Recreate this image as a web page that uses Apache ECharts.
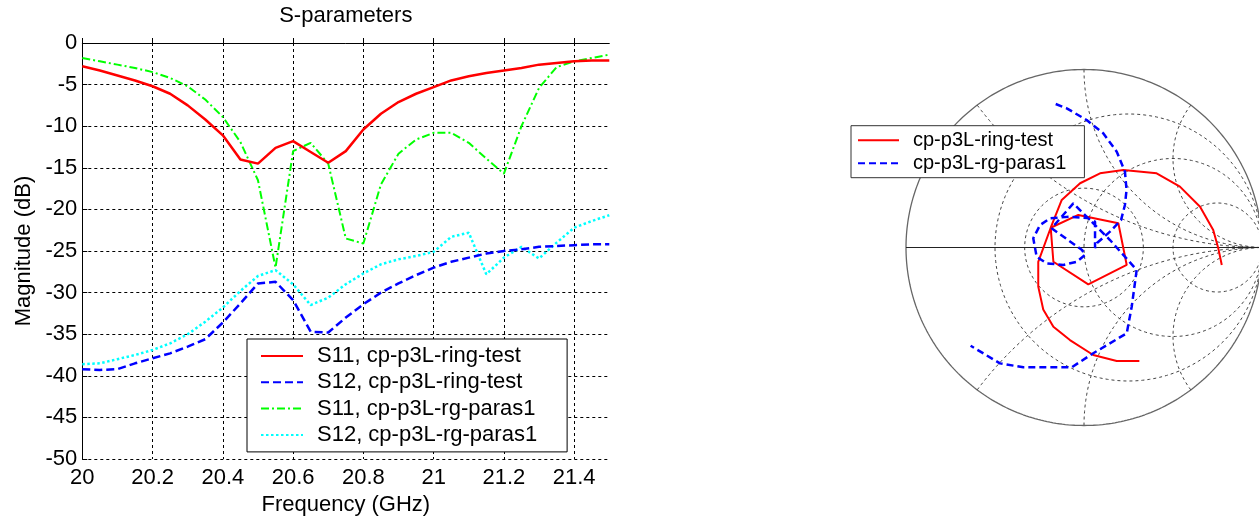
<!DOCTYPE html>
<html>
<head>
<meta charset="utf-8">
<script src="https://cdn.jsdelivr.net/npm/echarts@6/dist/echarts.min.js"></script>
<style>
html,body{margin:0;padding:0;background:#fff;}
#chart{width:1259px;height:516px;}
</style>
</head>
<body>
<div id="chart"></div>
<script>
// Frequency sweep, GHz
const freq = [20.00, 20.05, 20.10, 20.15, 20.20, 20.25, 20.30, 20.35, 20.40, 20.45,
              20.50, 20.55, 20.60, 20.65, 20.70, 20.75, 20.80, 20.85, 20.90, 20.95,
              21.00, 21.05, 21.10, 21.15, 21.20, 21.25, 21.30, 21.35, 21.40, 21.45, 21.50];

// Magnitudes in dB
const s11RingTest = [-2.8, -3.3, -3.9, -4.5, -5.2, -6.1, -7.5, -9.2, -11.1, -14.0,
                     -14.5, -12.6, -11.8, -13.1, -14.4, -13.0, -10.4, -8.5, -7.1, -6.1,
                     -5.3, -4.5, -4.0, -3.6, -3.3, -3.0, -2.6, -2.4, -2.2, -2.1, -2.1];
const s12RingTest = [-39.2, -39.3, -39.2, -38.5, -37.9, -37.3, -36.5, -35.6, -33.6, -31.3,
                     -28.9, -28.7, -30.9, -34.7, -34.8, -33.0, -31.4, -30.0, -28.9, -27.9,
                     -27.0, -26.3, -25.8, -25.3, -25.0, -24.8, -24.5, -24.4, -24.3, -24.2, -24.2];
const s11RgParas = [-1.8, -2.2, -2.6, -3.0, -3.5, -4.2, -5.2, -6.8, -8.9, -11.9,
                    -16.5, -27.0, -13.0, -12.0, -14.5, -23.5, -24.1, -17.0, -13.3, -11.6,
                    -10.8, -10.8, -12.0, -13.9, -15.7, -10.0, -5.4, -2.9, -2.2, -1.8, -1.4];
const s12RgParas = [-38.6, -38.5, -38.0, -37.5, -36.9, -36.1, -35.0, -33.5, -31.8, -29.8,
                    -28.0, -27.3, -29.0, -31.5, -30.6, -29.0, -27.7, -26.6, -26.0, -25.6,
                    -25.1, -23.3, -22.8, -27.8, -25.8, -24.5, -25.9, -24.0, -22.2, -21.4, -20.7];

const freqTicks = { min: 20, max: 21.5, step: 0.2 };
const dbTicks = { min: -50, max: 0, step: 5 };

// Reflection coefficient traces on the Smith chart (real / imaginary parts)
const ringTestRe = [0.311, 0.184, 0.052, -0.079, -0.172, -0.229, -0.257, -0.257, -0.187, -0.032,
                    0.193, 0.240, 0.024, -0.172, -0.187, -0.125, -0.022, 0.090, 0.221, 0.408,
                    0.539, 0.652, 0.726, 0.754, 0.774];
const ringTestIm = [-0.638, -0.638, -0.604, -0.520, -0.445, -0.348, -0.220, -0.081, 0.111, 0.183,
                    0.136, -0.098, -0.207, -0.080, 0.111, 0.267, 0.361, 0.417, 0.435, 0.417,
                    0.342, 0.229, 0.098, -0.003, -0.098];
const rgParasRe = [-0.159, -0.097, 0.015, 0.108, 0.184, 0.230, 0.239, 0.230, 0.208, 0.146,
                   0.073, 0.062, 0.062, 0.017, -0.079, -0.191, -0.247, -0.285, -0.266, -0.210,
                   -0.116, -0.041, 0.006, -0.011, -0.182, -0.060, 0.146, 0.296, 0.268, 0.240,
                   0.052, -0.069, -0.341, -0.472, -0.637];
const rgParasIm = [0.806, 0.782, 0.716, 0.642, 0.538, 0.426, 0.323, 0.239, 0.154, 0.089,
                   0.025, -0.003, 0.145, 0.166, 0.173, 0.164, 0.126, 0.052, -0.052, -0.089,
                   -0.098, -0.080, -0.042, -0.014, 0.108, 0.248, 0.042, -0.126, -0.333, -0.482,
                   -0.594, -0.673, -0.673, -0.651, -0.552];

// Smith chart grid values
const resistanceCircles = [1 / 3, 1, 3];
const reactanceArcs = [0.5, 1, 2, -0.5, -1, -2];
const reflectionCircles = [1 / 3];

const FONT = '"Liberation Sans", Arial, Helvetica, sans-serif';

function zip(a, b) { return a.map((v, i) => [v, b[i]]); }

function arc(cx, cy, rad, a0, a1, n) {
  const pts = [];
  for (let i = 0; i <= n; i++) {
    const a = a0 + (a1 - a0) * i / n;
    pts.push([cx + rad * Math.cos(a), cy + rad * Math.sin(a)]);
  }
  return pts;
}

function resistanceCircle(r) {
  return arc(r / (r + 1), 0, 1 / (r + 1), 0, 2 * Math.PI, 240);
}

function reactanceArc(x) {
  const ax = Math.abs(x);
  const ix = (ax * ax - 1) / (ax * ax + 1);
  const iy = 2 * ax / (ax * ax + 1);
  const t0 = Math.atan2(iy - 1 / ax, ix - 1);
  const start = t0 < 0 ? t0 + 2 * Math.PI : t0;
  const pts = arc(1, 1 / ax, 1 / ax, start, 1.5 * Math.PI, 200);
  return x < 0 ? pts.map(p => [p[0], -p[1]]) : pts;
}

const gridDash = { color: '#444', width: 1, type: [3, 3] };
const smithGridSeries = [];
function addGridCurve(pts, style) {
  smithGridSeries.push({
    type: 'line', xAxisIndex: 1, yAxisIndex: 1, data: pts, symbol: 'none',
    silent: true, animation: false, lineStyle: style, z: 1, clip: false
  });
}
resistanceCircles.forEach(r => addGridCurve(resistanceCircle(r), gridDash));
reactanceArcs.forEach(x => addGridCurve(reactanceArc(x), gridDash));
reflectionCircles.forEach(g => addGridCurve(arc(0, 0, g, 0, 2 * Math.PI, 240), gridDash));
addGridCurve(arc(0, 0, 1, 0, 2 * Math.PI, 360), { color: '#666', width: 1.3, type: 'solid' });
addGridCurve([[-1, 0], [1, 0]], { color: '#222', width: 1.2, type: 'solid' });

const names = ['S11, cp-p3L-ring-test', 'S12, cp-p3L-ring-test',
               'S11, cp-p3L-rg-paras1', 'S12, cp-p3L-rg-paras1'];
const smithNames = ['cp-p3L-ring-test', 'cp-p3L-rg-paras1'];

function magSeries(name, vals, color, width, type, z) {
  return {
    name, type: 'line', xAxisIndex: 0, yAxisIndex: 0, data: zip(freq, vals),
    symbol: 'none', animation: false, z,
    lineStyle: { color, width, type }, itemStyle: { color }
  };
}

const chart = echarts.init(document.getElementById('chart'), null, { renderer: 'canvas' });
chart.setOption({
  backgroundColor: '#fff',
  animation: false,
  title: {
    text: 'S-parameters', left: 345.8, top: 5, textAlign: 'center', padding: 0,
    textStyle: { fontFamily: FONT, fontSize: 22, fontWeight: 'normal', color: '#000' }
  },
  grid: [
    { left: 82.3, top: 43, width: 527, height: 416, outerBoundsMode: 'none', containLabel: false },
    { left: 906, top: 69.5, width: 356, height: 356, outerBoundsMode: 'none', containLabel: false }
  ],
  xAxis: [
    {
      type: 'value', gridIndex: 0, min: freqTicks.min, max: freqTicks.max, interval: freqTicks.step,
      name: 'Frequency (GHz)', nameLocation: 'middle', nameGap: 31,
      nameTextStyle: { fontFamily: FONT, fontSize: 22, color: '#000' },
      axisLine: { show: true, lineStyle: { color: '#000', width: 1 } },
      axisTick: { show: true, inside: true, length: 5, lineStyle: { color: '#000' } },
      axisLabel: { color: '#000', fontFamily: FONT, fontSize: 22, margin: 8, showMaxLabel: false },
      splitLine: { show: true, showMaxLine: false, lineStyle: { color: '#000', width: 1, type: [3, 3] } }
    },
    { type: 'value', gridIndex: 1, min: -1, max: 1, show: false }
  ],
  yAxis: [
    {
      type: 'value', gridIndex: 0, min: dbTicks.min, max: dbTicks.max, interval: dbTicks.step,
      name: 'Magnitude (dB)', nameLocation: 'middle', nameGap: 47,
      nameTextStyle: { fontFamily: FONT, fontSize: 22, color: '#000' },
      axisLine: { show: true, lineStyle: { color: '#000', width: 1 } },
      axisTick: { show: true, inside: true, length: 5, lineStyle: { color: '#000' } },
      axisLabel: { color: '#000', fontFamily: FONT, fontSize: 22, margin: 5 },
      splitLine: { show: true, lineStyle: { color: '#000', width: 1, type: [3, 3] } }
    },
    { type: 'value', gridIndex: 1, min: -1, max: 1, show: false }
  ],
  legend: [
    {
      data: names, orient: 'vertical', left: 247, top: 339,
      padding: [6, 30, 6, 13], itemWidth: 42, itemHeight: 14, itemGap: 4.3,
      backgroundColor: '#fff', borderColor: '#000', borderWidth: 1, borderRadius: 0,
      selectedMode: false, itemStyle: { opacity: 0 },
      textStyle: { fontFamily: FONT, fontSize: 22, color: '#000', lineHeight: 22, padding: [0, 0, 0, 9] }
    },
    {
      data: smithNames, orient: 'vertical', left: 851, top: 125.7,
      padding: [4.5, 18, 4.5, 6], itemWidth: 41, itemHeight: 14, itemGap: 3,
      backgroundColor: '#fff', borderColor: '#333', borderWidth: 1, borderRadius: 0,
      selectedMode: false, itemStyle: { opacity: 0 },
      textStyle: { fontFamily: FONT, fontSize: 20, color: '#000', lineHeight: 20, padding: [0, 0, 0, 9] }
    }
  ],
  series: [
    magSeries(names[2], s11RgParas, '#00ff00', 2, [8, 3, 2, 3], 3),
    magSeries(names[3], s12RgParas, '#00ffff', 2.5, [2.5, 2.5], 3),
    magSeries(names[1], s12RingTest, '#0000ff', 2.5, [8, 4], 4),
    magSeries(names[0], s11RingTest, '#ff0000', 2.5, 'solid', 5),
    ...smithGridSeries,
    {
      name: smithNames[0], type: 'line', xAxisIndex: 1, yAxisIndex: 1,
      data: zip(ringTestRe, ringTestIm), symbol: 'none', animation: false, z: 5,
      lineStyle: { color: '#ff0000', width: 2, type: 'solid' }, itemStyle: { color: '#ff0000' }
    },
    {
      name: smithNames[1], type: 'line', xAxisIndex: 1, yAxisIndex: 1,
      data: zip(rgParasRe, rgParasIm), symbol: 'none', animation: false, z: 6,
      lineStyle: { color: '#0000ff', width: 2.5, type: [7, 4] }, itemStyle: { color: '#0000ff' }
    }
  ]
});
</script>
</body>
</html>
